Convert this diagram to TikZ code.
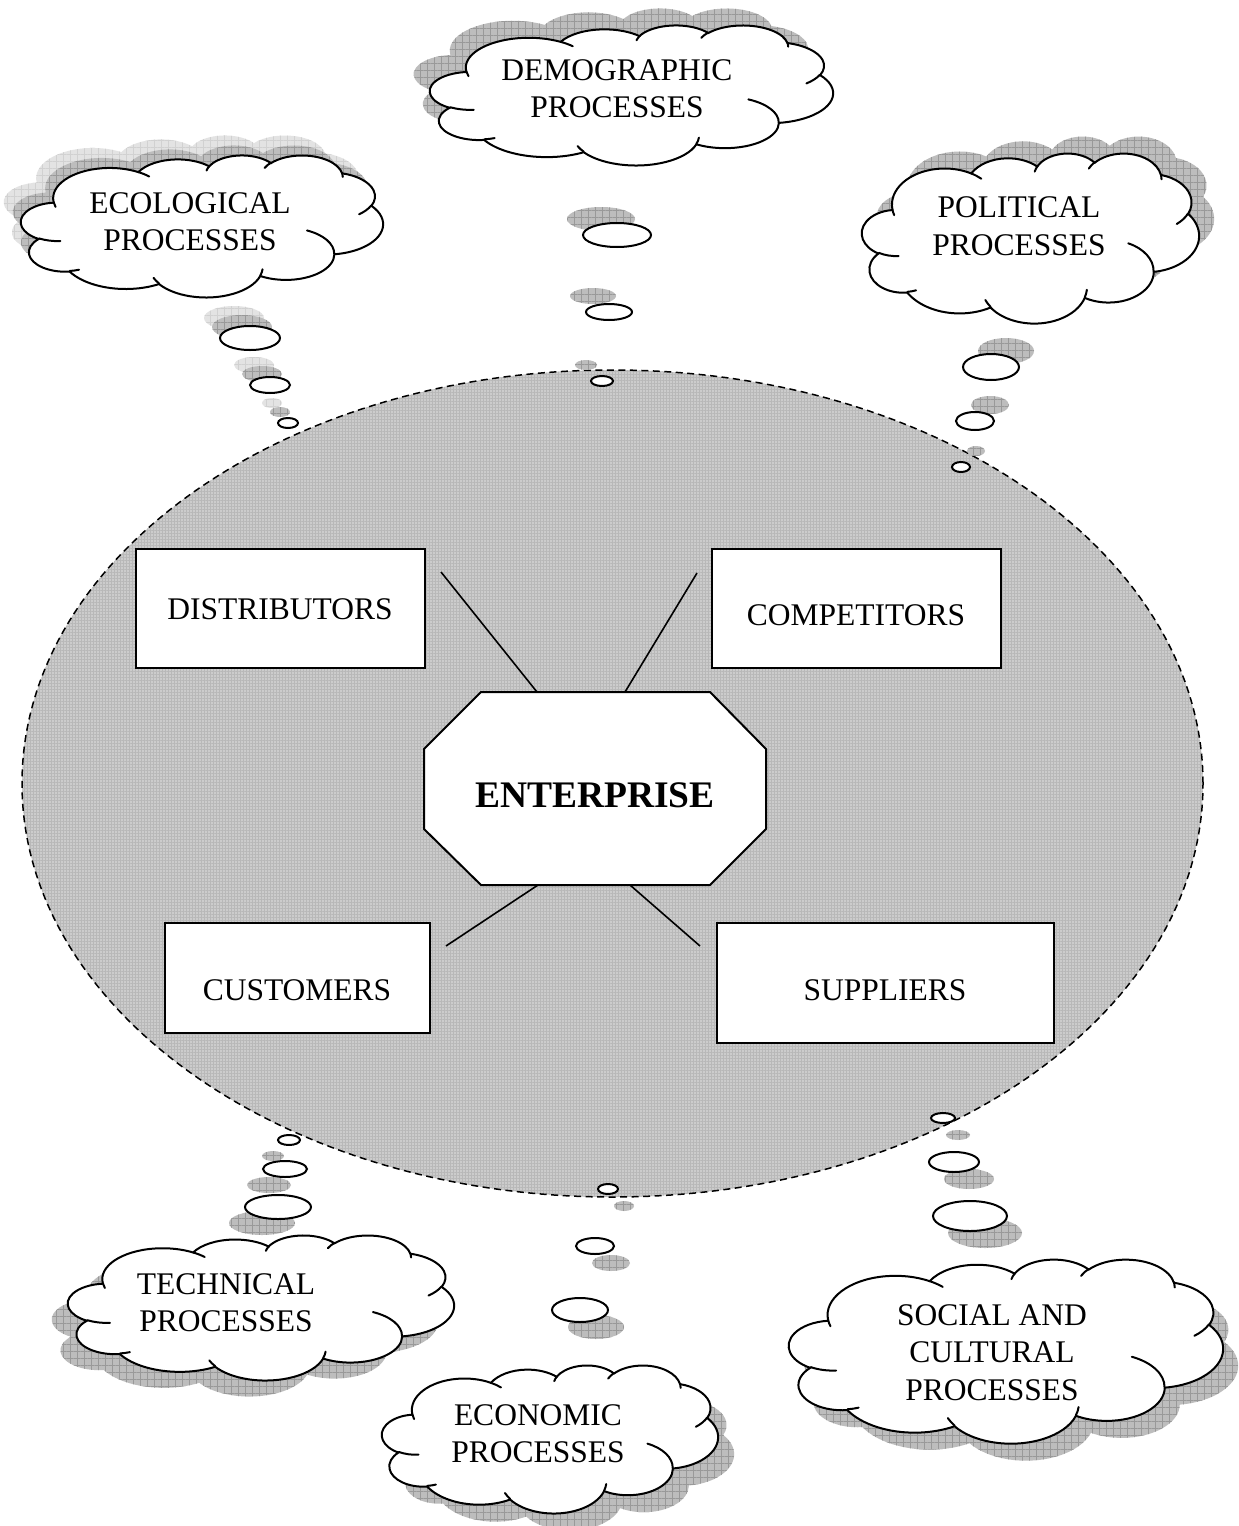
\documentclass[tikz,border=0pt]{standalone}
\usepackage{fontspec}
\setmainfont{Liberation Serif}
\usetikzlibrary{patterns.meta}

\makeatletter
% add an OOXML-style arcTo (visual angles) to a path macro
\newcommand\cldarc[5]{%
  \pgfmathsetmacro\cl@a{#2/100}%
  \pgfmathsetmacro\cl@b{#3/100}%
  \pgfmathsetmacro\cl@ta{atan2(\cl@a*sin(#4),\cl@b*cos(#4))}%
  \pgfmathsetmacro\cl@tb{atan2(\cl@a*sin(#4+#5),\cl@b*cos(#4+#5))}%
  \pgfmathsetmacro\cl@d{(\cl@tb)-(\cl@ta)}%
  \pgfmathsetmacro\cl@d{(\cl@d)+360*round(((#5)-(\cl@d))/360)}%
  \xdef#1{#1 arc[x radius=\cl@a, y radius=\cl@b, start angle=\cl@ta, delta angle=\cl@d]}%
}
\newcommand\cldmove[3]{\xdef#1{#1 (#2,#3)}}
\makeatother

% cloud outline (local box 432 x 432)
\gdef\cloudout{(39,143.70)}
\cldarc\cloudout{6753}{9190}{-190.4875}{123.7805}
\cldarc\cloudout{5333}{7267}{-144.1024}{89.9452}
\cldarc\cloudout{4365}{5945}{-145.8079}{99.7230}
\cldarc\cloudout{4857}{6595}{-130.9861}{117.2417}
\cldarc\cloudout{5333}{7273}{-78.7089}{109.0269}
\cldarc\cloudout{6775}{9220}{-46.2673}{130.2690}
\cldarc\cloudout{5785}{7867}{0.6250}{114.0333}
\cldarc\cloudout{6752}{9215}{22.4516}{115.1726}
\cldarc\cloudout{7720}{10543}{66.2426}{75.7110}
\cldarc\cloudout{4360}{5918}{-274.9421}{146.7356}
\cldarc\cloudout{4345}{5945}{-246.8285}{152.5189}

% inner strokes
\gdef\cloudin{}
\cldmove\cloudin{46.93}{261.77}\cldarc\cloudin{4345}{5945}{86.7420}{26.4295}
\cldmove\cloudin{69.28}{348.99}\cldarc\cloudin{4360}{5918}{73.6105}{11.4475}
\cldmove\cloudin{164.78}{390.90}\cldarc\cloudin{6752}{9215}{137.6242}{14.0811}
\cldmove\cloudin{288.27}{347.51}\cldarc\cloudin{6752}{9215}{6.4533}{15.9984}
\cldmove\cloudin{341.29}{229.54}\cldarc\cloudin{5785}{7867}{-70.2924}{70.9174}
\cldmove\cloudin{417.98}{153.54}\cldarc\cloudin{5333}{7273}{30.3180}{27.7515}
\cldmove\cloudin{383.24}{54.26}\cldarc\cloudin{4857}{6595}{-13.7443}{14.8589}
\cldmove\cloudin{290.78}{39.52}\cldarc\cloudin{4857}{6595}{-149.1815}{18.1954}
\cldmove\cloudin{221.41}{47.20}\cldarc\cloudin{4365}{5945}{-163.4943}{17.6864}
\cldmove\cloudin{140.00}{51.92}\cldarc\cloudin{6753}{9190}{-66.7070}{12.3194}
\cldmove\cloudin{41.27}{157.89}\cldarc\cloudin{6753}{9190}{157.6544}{11.8582}

% #1 x0, #2 y0, #3 w, #4 h, #5 style
\newcommand\cloudfill[5]{%
  \begin{scope}[shift={(#1,#2)}, xscale=#3/432, yscale=#4/432]
    \path[#5] \cloudout -- cycle;
  \end{scope}}
\newcommand\cloudmain[4]{%
  \begin{scope}[shift={(#1,#2)}, xscale=#3/432, yscale=#4/432]
    \path[cloudbody] \cloudout -- cycle;
    \path[cloudline] \cloudin;
  \end{scope}}

\definecolor{shadowgray}{gray}{0.74}
\definecolor{gridgray}{gray}{0.60}
\definecolor{lightshadow}{gray}{0.89}
\definecolor{lightgrid}{gray}{0.82}
\definecolor{envgray}{gray}{0.80}
\definecolor{envgrid}{gray}{0.72}

\tikzset{
  darkshadow/.style={fill=shadowgray,
    postaction={pattern={Hatch[distance=7pt,line width=.5pt]},pattern color=gridgray}},
  paleshadow/.style={fill=lightshadow,
    postaction={pattern={Hatch[distance=7pt,line width=.5pt]},pattern color=lightgrid}},
  cloudbody/.style={draw=black, line width=2pt, fill=white},
  cloudline/.style={draw=black, line width=2pt, line cap=round},
  bubble/.style={draw=black, line width=2pt, fill=white},
  boxnode/.style={draw=black, line width=2pt, fill=white, rectangle, inner sep=0pt},
  lbl/.style={font=\fontsize{31.5}{37.5}\selectfont, inner sep=0pt, align=center},
  link/.style={draw=black, line width=1.6pt},
}

\begin{document}
\begin{tikzpicture}[x=1pt, y=-1pt]
\useasboundingbox (0,0) rectangle (1239,1526);

% environment ellipse
\fill[white] (0,0) rectangle (1239,1526);
\path[fill=envgray, postaction={pattern={Hatch[distance=3pt,line width=.5pt]},pattern color=envgrid}]
  (612.5,783.5) ellipse [x radius=590.5pt, y radius=413.5pt];
\draw[line width=1.5pt, dash pattern=on 7pt off 4.5pt]
  (612.5,783.5) ellipse [x radius=590.5pt, y radius=413.5pt];

% ---------- shadows ----------
% ecological (two shadows, up-left)
\cloudfill{4}{135}{362}{142}{paleshadow}
\cloudfill{13}{145}{362}{142}{darkshadow}
\foreach \x/\y/\a/\b in {250/338/30/12, 270/385/20/8, 288/423/10/5}{
  \path[paleshadow] (\x-16,\y-20) ellipse [x radius=\a pt, y radius=\b pt];
  \path[darkshadow] (\x-8,\y-11) ellipse [x radius=\a pt, y radius=\b pt];
}
% demographic (up-left)
\cloudfill{414}{8}{403}{140}{darkshadow}
\foreach \x/\y/\a/\b in {617/235/34/12, 609/312/23/8, 602/381/11/5}{
  \path[darkshadow] (\x-16,\y-16) ellipse [x radius=\a pt, y radius=\b pt];
}
% political (up-right)
\cloudfill{877}{136}{337}{170}{darkshadow}
\foreach \x/\y/\a/\b in {991/367/28/13, 975/421/19/9, 961/467/9/5}{
  \path[darkshadow] (\x+15,\y-16) ellipse [x radius=\a pt, y radius=\b pt];
}
% technical (down-left)
\cloudfill{52}{1251}{386}{145}{darkshadow}
\foreach \x/\y/\a/\b in {289/1140/11/5, 285/1169/22/8, 278/1207/33/12}{
  \path[darkshadow] (\x-16,\y+16) ellipse [x radius=\a pt, y radius=\b pt];
}
% economic (down-right)
\cloudfill{398}{1382}{336}{148}{darkshadow}
\foreach \x/\y/\a/\b in {608/1189/10/5, 595/1246/19/8, 580/1310/28/12}{
  \path[darkshadow] (\x+16,\y+17) ellipse [x radius=\a pt, y radius=\b pt];
}
% social (down-right)
\cloudfill{804}{1276}{434}{184}{darkshadow}
\foreach \x/\y/\a/\b in {943/1118/12/5, 954/1162/25/10, 970/1216/37/15}{
  \path[darkshadow] (\x+15,\y+17) ellipse [x radius=\a pt, y radius=\b pt];
}

% ---------- bubbles ----------
\foreach \x/\y/\a/\b in {250/338/30/12, 270/385/20/8, 288/423/10/5,
  617/235/34/12, 609/312/23/8, 602/381/11/5,
  991/367/28/13, 975/421/19/9, 961/467/9/5,
  289/1140/11/5, 285/1169/22/8, 278/1207/33/12,
  608/1189/10/5, 595/1246/19/8, 580/1310/28/12,
  943/1118/12/5, 954/1162/25/10, 970/1216/37/15}{
  \path[bubble] (\x,\y) ellipse [x radius=\a pt, y radius=\b pt];
}

% ---------- clouds ----------
\cloudmain{21}{155}{362}{142}
\cloudmain{430}{25}{403}{140}
\cloudmain{862}{153}{337}{170}
\cloudmain{68}{1235}{386}{145}
\cloudmain{382}{1365}{336}{148}
\cloudmain{789}{1259}{434}{184}

\node[lbl] (eco)  at (190,221.5) {ECOLOGICAL\\PROCESSES};
\node[lbl] (dem)  at (617,88.5)  {DEMOGRAPHIC\\PROCESSES};
\node[lbl] (pol)  at (1019,226)  {POLITICAL\\PROCESSES};
\node[lbl] (tec)  at (226,1302.5) {TECHNICAL\\PROCESSES};
\node[lbl] (econ) at (538,1433.5) {ECONOMIC\\PROCESSES};
\node[lbl] (soc)  at (992,1352.5) {SOCIAL AND\\CULTURAL\\PROCESSES};

% ---------- boxes ----------
\node[boxnode, minimum width=289pt, minimum height=119pt] (dist) at (280.5,608.5) {};
\node[boxnode, minimum width=289pt, minimum height=119pt] (comp) at (856.5,608.5) {};
\node[boxnode, minimum width=265pt, minimum height=110pt] (cust) at (297.5,978) {};
\node[boxnode, minimum width=337pt, minimum height=120pt] (supp) at (885.5,983) {};
\node[lbl] (distT) at (280,609) {DISTRIBUTORS};
\node[lbl] (compT) at (856,615) {COMPETITORS};
\node[lbl] (custT) at (297,990) {CUSTOMERS};
\node[lbl] (suppT) at (885,990) {SUPPLIERS};

% ---------- enterprise octagon ----------
\draw[line width=2pt, fill=white, line join=miter]
  (481,692) -- (710,692) -- (766,749) -- (766,829) -- (710,885) -- (481,885) -- (424,829) -- (424,749) -- cycle;
\node[font=\fontsize{37.5}{40}\selectfont\bfseries, inner sep=0pt] (ent) at (595,795) {ENTERPRISE};

% connector ends
\coordinate (dA) at (441,572);  \coordinate (dB) at (537,692);
\coordinate (cA) at (697,573);  \coordinate (cB) at (625,692);
\coordinate (uA) at (446,946);  \coordinate (uB) at (538,885);
\coordinate (sA) at (700,946);  \coordinate (sB) at (630,885);
\draw[link] (dA) -- (dB);
\draw[link] (cA) -- (cB);
\draw[link] (uA) -- (uB);
\draw[link] (sA) -- (sB);
\end{tikzpicture}
\end{document}
